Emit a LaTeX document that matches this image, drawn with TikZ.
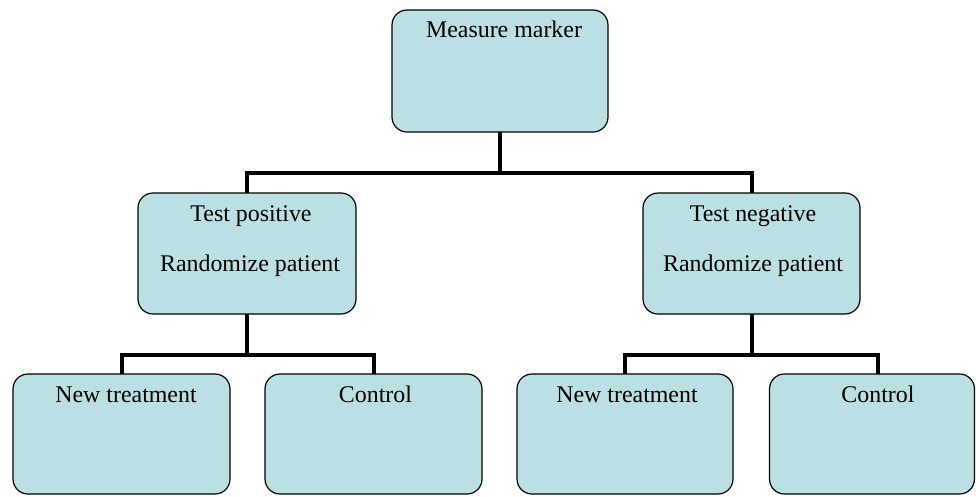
\documentclass[tikz,border=0pt]{standalone}
\usepackage{fontspec}
\setmainfont{Liberation Serif}
\definecolor{boxfill}{RGB}{187,224,227}
\tikzset{
  box/.style={draw=black, line width=1.2pt, fill=boxfill, rounded corners=15pt,
    rectangle, inner sep=0pt, outer sep=0pt},
  txt/.style={anchor=base, inner sep=0pt, font=\fontsize{23.9}{28}\selectfont},
  wire/.style={line width=4pt, draw=black}
}
\begin{document}
\begin{tikzpicture}[x=1pt,y=-1pt]
\useasboundingbox (0,0) rectangle (976,496);
% boxes
\node[box, minimum width=216pt, minimum height=122pt] (m)  at (500,71) {};
\node[box, minimum width=218pt, minimum height=121pt] (tp) at (247,253.5) {};
\node[box, minimum width=217pt, minimum height=121pt] (tn) at (751.5,253.5) {};
\node[box, minimum width=217pt, minimum height=120pt] (b1) at (121.5,434) {};
\node[box, minimum width=217pt, minimum height=120pt] (b2) at (373.5,434) {};
\node[box, minimum width=216pt, minimum height=120pt] (b3) at (625,434) {};
\node[box, minimum width=205pt, minimum height=120pt] (b4) at (872,434) {};
% texts
\node[txt] (mt) at (504,37.3) {Measure marker};
\node[txt] (tpa) at (251,221) {Test positive};
\node[txt] (tpb) at (250,271.7) {Randomize patient};
\node[txt] (tna) at (753,221) {Test negative};
\node[txt] (tnb) at (753,271.7) {Randomize patient};
\node[txt] (b1t) at (126,402.7) {New treatment};
\node[txt] (b2t) at (375.5,402.7) {Control};
\node[txt] (b3t) at (627,402.7) {New treatment};
\node[txt] (b4t) at (878,402.7) {Control};
% connectors
\coordinate (busA) at (500,172.6);
\coordinate (busB) at (247,355);
\coordinate (busC) at (751.5,355);
\draw[wire] (m.south) -- (busA);
\draw[wire] (tp.north) |- (busA) -| (tn.north);
\draw[wire] (tp.south) -- (busB);
\draw[wire] ([xshift=0.5pt]b1.north) |- (busB) -| (b2.north);
\draw[wire] (tn.south) -- (busC);
\draw[wire] (b3.north) |- (busC) -| ([xshift=6pt]b4.north);
\end{tikzpicture}
\end{document}
